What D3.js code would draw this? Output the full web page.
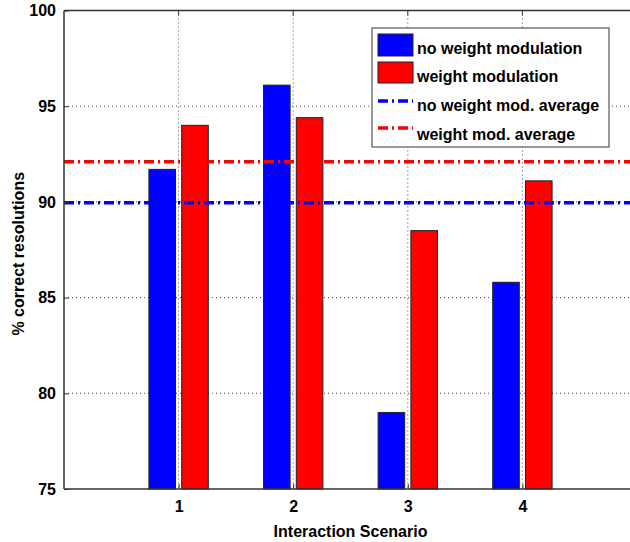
<!DOCTYPE html>
<html>
<head>
<meta charset="utf-8">
<script src="https://cdn.jsdelivr.net/npm/d3@7/dist/d3.min.js"></script>
<style>
  html, body { margin: 0; padding: 0; background: #fff; }
  svg { display: block; font-family: "Liberation Sans", Arial, Helvetica, sans-serif; }
</style>
</head>
<body>
<svg id="chart" width="630" height="542"></svg>
<script>
// Interaction scenarios on the x axis
const scenarios = [1, 2, 3, 4];
// % correct resolutions per scenario
const noWeightMod = [91.7, 96.1, 79.0, 85.8];
const weightMod = [94.0, 94.4, 88.5, 91.1];
// Averages over all scenarios
const noWeightModAvg = 89.95;
const weightModAvg = 92.1;
// Axis ticks
const yTicks = [75, 80, 85, 90, 95, 100];
const xTicks = [1, 2, 3, 4];
// Legend entries
const legendLabels = ["no weight modulation", "weight modulation", "no weight mod. average", "weight mod. average"];

const BLUE = "#0000ff", RED = "#ff0000";

const svg = d3.select("#chart");
const plot = { left: 64, right: 637, top: 10.5, bottom: 489 };

const x = d3.scaleLinear().domain([0, 5]).range([plot.left, plot.right]);
const y = d3.scaleLinear().domain([75, 100]).range([plot.bottom, plot.top]);

const barW = 0.232;   // bar width in x units
const barOff = 0.143; // offset of each bar centre from the group centre

// Grid (dotted)
const grid = svg.append("g").attr("stroke", "#444").attr("stroke-width", 1).attr("stroke-dasharray", "1,3");
grid.selectAll("line.gx").data(xTicks).join("line")
  .attr("x1", d => x(d)).attr("x2", d => x(d))
  .attr("y1", plot.top).attr("y2", plot.bottom);
grid.selectAll("line.gy").data(yTicks.filter(v => v > 75 && v < 100)).join("line")
  .attr("x1", plot.left).attr("x2", plot.right)
  .attr("y1", d => y(d)).attr("y2", d => y(d));

// Bars
const bars = svg.append("g").attr("stroke", "#222").attr("stroke-width", 1);
bars.selectAll("rect.nw").data(scenarios).join("rect")
  .attr("x", (d, i) => x(d - barOff - barW / 2))
  .attr("width", x(barW) - x(0))
  .attr("y", (d, i) => y(noWeightMod[i]))
  .attr("height", (d, i) => y(75) - y(noWeightMod[i]))
  .attr("fill", BLUE);
bars.selectAll("rect.w").data(scenarios).join("rect")
  .attr("x", (d, i) => x(d + barOff - barW / 2))
  .attr("width", x(barW) - x(0))
  .attr("y", (d, i) => y(weightMod[i]))
  .attr("height", (d, i) => y(75) - y(weightMod[i]))
  .attr("fill", RED);

// Average lines (dash-dot)
const dashDot = "10,4,2,4";
svg.append("line")
  .attr("x1", plot.left).attr("x2", plot.right)
  .attr("y1", y(noWeightModAvg)).attr("y2", y(noWeightModAvg))
  .attr("stroke", BLUE).attr("stroke-width", 3.5).attr("stroke-dasharray", dashDot);
svg.append("line")
  .attr("x1", plot.left).attr("x2", plot.right)
  .attr("y1", y(weightModAvg)).attr("y2", y(weightModAvg))
  .attr("stroke", RED).attr("stroke-width", 3.5).attr("stroke-dasharray", dashDot);

// Axes box
const axisColor = "#333";
svg.append("line").attr("x1", plot.left).attr("x2", plot.left).attr("y1", plot.top).attr("y2", plot.bottom)
  .attr("stroke", axisColor).attr("stroke-width", 1.5);
svg.append("line").attr("x1", plot.left).attr("x2", plot.right).attr("y1", plot.bottom).attr("y2", plot.bottom)
  .attr("stroke", axisColor).attr("stroke-width", 1.5);
svg.append("line").attr("x1", plot.left).attr("x2", plot.right).attr("y1", plot.top).attr("y2", plot.top)
  .attr("stroke", axisColor).attr("stroke-width", 1.5);

// Y axis: inward ticks
const yAxis = d3.axisLeft(y).tickValues(yTicks).tickSizeInner(-5).tickSizeOuter(0).tickPadding(8);
const gy = svg.append("g").attr("transform", `translate(${plot.left},0)`).call(yAxis);
gy.select(".domain").remove();
gy.selectAll(".tick line").attr("stroke", axisColor);
gy.selectAll(".tick text").attr("fill", "#000").style("font-size", "16px").style("font-weight", "bold")
  .style("font-family", "'Liberation Sans', Arial, sans-serif");

// X axis: inward ticks, bottom and top
const xAxis = d3.axisBottom(x).tickValues(xTicks).tickFormat(d3.format("d")).tickSizeInner(-5).tickSizeOuter(0).tickPadding(12);
const gx = svg.append("g").attr("transform", `translate(0,${plot.bottom})`).call(xAxis);
gx.select(".domain").remove();
gx.selectAll(".tick line").attr("stroke", axisColor);
gx.selectAll(".tick text").attr("fill", "#000").style("font-size", "16px").style("font-weight", "bold")
  .style("font-family", "'Liberation Sans', Arial, sans-serif");
svg.append("g").selectAll("line").data(xTicks).join("line")
  .attr("x1", d => x(d)).attr("x2", d => x(d))
  .attr("y1", plot.top).attr("y2", plot.top + 5).attr("stroke", axisColor);

// Axis titles
svg.append("text").attr("x", x(2.5)).attr("y", 537).attr("text-anchor", "middle")
  .style("font-size", "16px").style("font-weight", "bold").text("Interaction Scenario");
svg.append("text").attr("transform", `translate(24,${(plot.top + plot.bottom) / 2 + 4}) rotate(-90)`)
  .attr("text-anchor", "middle").style("font-size", "16px").style("font-weight", "bold")
  .text("% correct resolutions");

// Legend
const lg = svg.append("g");
lg.append("rect").attr("x", 372).attr("y", 28).attr("width", 237).attr("height", 119)
  .attr("fill", "#fff").attr("stroke", "#555").attr("stroke-width", 1.2);
const rowY = [45, 73, 102, 130];
lg.append("rect").attr("x", 378).attr("y", 34).attr("width", 35).attr("height", 22)
  .attr("fill", BLUE).attr("stroke", "#222");
lg.append("rect").attr("x", 378).attr("y", 62).attr("width", 35).attr("height", 21)
  .attr("fill", RED).attr("stroke", "#222");
lg.append("line").attr("x1", 378).attr("x2", 413).attr("y1", 101).attr("y2", 101)
  .attr("stroke", BLUE).attr("stroke-width", 3.5).attr("stroke-dasharray", dashDot);
lg.append("line").attr("x1", 378).attr("x2", 413).attr("y1", 128).attr("y2", 128)
  .attr("stroke", RED).attr("stroke-width", 3.5).attr("stroke-dasharray", dashDot);
lg.selectAll("text").data(legendLabels).join("text")
  .attr("x", 417).attr("y", (d, i) => [54, 82, 111, 140][i])
  .style("font-size", "16px").style("font-weight", "bold").text(d => d);
</script>
</body>
</html>
